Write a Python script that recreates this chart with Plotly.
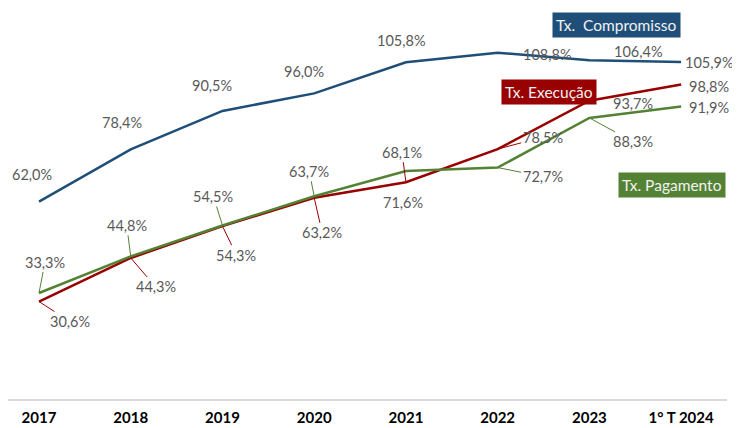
import plotly.graph_objects as go

anos = ["2017", "2018", "2019", "2020", "2021", "2022", "2023", "1° T 2024"]
tx_compromisso = [62.0, 78.4, 90.5, 96.0, 105.8, 108.8, 106.4, 105.9]
tx_execucao = [30.6, 44.3, 54.3, 63.2, 68.1, 78.5, 93.7, 98.8]
tx_pagamento = [33.3, 44.8, 54.5, 63.7, 71.6, 72.7, 88.3, 91.9]

AZUL = "#1F4E79"
VERMELHO = "#990000"
VERDE = "#548235"
CINZA = "#595959"
FONTE = "Lato"

# deslocamento (px) de cada rótulo em relação ao ponto; 1 = com linha de chamada
offs_comp = [(-7, -27, 0), (-9, -27, 0), (-10, -25, 0), (-10, -22, 0),
             (-4, -22, 0), (50, 2, 0), (49, -9, 0), (28, 1, 0)]
offs_exec = [(31, 20, 1), (25, 29, 1), (14, 29, 1), (8, 35, 1),
             (-4, -30, 1), (45, -12, 1), (44, 3, 0), (28, 2, 0)]
offs_pag = [(6, -31, 1), (-4, -31, 1), (-9, -29, 1), (-5, -25, 1),
            (-3, 31, 0), (45, 9, 1), (44, 24, 1), (28, 1, 0)]


def fmt(v):
    return f"{v:.1f}".replace(".", ",") + "%"


fig = go.Figure()
for nome, valores, cor in [("Tx. Compromisso", tx_compromisso, AZUL),
                           ("Tx. Execução", tx_execucao, VERMELHO),
                           ("Tx. Pagamento", tx_pagamento, VERDE)]:
    fig.add_trace(go.Scatter(x=list(range(len(anos))), y=valores, mode="lines",
                             name=nome, line=dict(color=cor, width=2.5)))

anotacoes = []
for valores, offs, cor in [(tx_compromisso, offs_comp, AZUL),
                           (tx_execucao, offs_exec, VERMELHO),
                           (tx_pagamento, offs_pag, VERDE)]:
    for i, (v, (ax, ay, seta)) in enumerate(zip(valores, offs)):
        anotacoes.append(dict(
            x=i, y=v, text=fmt(v), showarrow=True, ax=ax, ay=ay,
            arrowhead=0, arrowwidth=1,
            arrowcolor=cor if seta else "rgba(0,0,0,0)",
            font=dict(family=FONTE, size=14.5, color=CINZA)))

# caixas de legenda
for texto, cor, px_, py_ in [("Tx.\u00a0 Compromisso", AZUL, 0.847, 0.978),
                             ("Tx. Execução", VERMELHO, 0.752, 0.804),
                             ("Tx. Pagamento", VERDE, 0.924, 0.560)]:
    anotacoes.append(dict(
        xref="paper", yref="paper", x=px_, y=py_, text=texto,
        showarrow=False, bgcolor=cor, borderpad=3,
        xanchor="center", yanchor="middle",
        font=dict(family=FONTE, size=15.5, color="#F2F2F2")))

fig.update_layout(
    width=740, height=428,
    margin=dict(l=0, r=21, t=9, b=37),
    paper_bgcolor="white", plot_bgcolor="white",
    showlegend=False,
    annotations=anotacoes,
    xaxis=dict(range=[-0.338, 7.5], showgrid=False, automargin=False,
               tickvals=list(range(len(anos))), ticktext=anos,
               showline=True, linecolor="#D9D9D9", linewidth=1.5,
               ticks="", zeroline=False, ticklabelstandoff=4,
               tickfont=dict(family=FONTE, size=15, color="black", weight="bold")),
    yaxis=dict(range=[0, 120], visible=False, showgrid=False, zeroline=False),
)

fig.write_html("out.html")
